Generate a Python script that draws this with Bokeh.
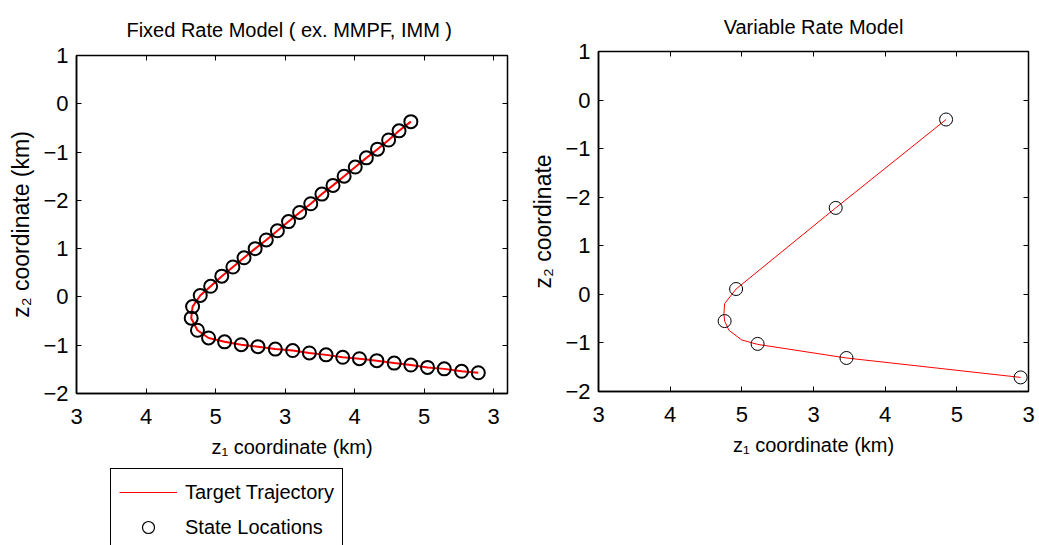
from bokeh.plotting import figure
from bokeh.models import LinearAxis, Legend, LegendItem, FixedTicker, Range1d
from bokeh.layouts import row, column
from bokeh.embed import file_html
from bokeh.resources import INLINE

# ---------------- data (axis-position units) ----------------
x_tick_pos = [0, 1, 2, 3, 4, 5, 6]
x_tick_labels = ["3", "4", "5", "3", "4", "5", "3"]
y_tick_pos = [0, 1, 2, 3, 4, 5, 6, 7]
y_tick_labels = ["\u22122", "\u22121", "0", "1", "\u22122", "\u22121", "0", "1"]

fixed_z1 = [4.81, 4.64, 4.49, 4.33, 4.17, 4.01, 3.85, 3.69, 3.53, 3.37,
            3.21, 3.05, 2.89, 2.73, 2.57, 2.41, 2.25, 2.09, 1.93, 1.78,
            1.67, 1.65, 1.74, 1.90, 2.13, 2.37, 2.61, 2.86, 3.11, 3.35,
            3.59, 3.83, 4.07, 4.32, 4.57, 4.81, 5.05, 5.29, 5.54, 5.78]
fixed_z2 = [5.63, 5.44, 5.25, 5.06, 4.88, 4.69, 4.50, 4.31, 4.13, 3.93,
            3.75, 3.56, 3.37, 3.18, 3.00, 2.81, 2.62, 2.43, 2.22, 2.03,
            1.80, 1.56, 1.31, 1.15, 1.07, 1.01, 0.97, 0.92, 0.89, 0.84,
            0.80, 0.75, 0.72, 0.68, 0.63, 0.59, 0.54, 0.51, 0.46, 0.43]

var_traj_z1 = [4.85, 3.31, 1.92, 1.76, 1.75, 1.76, 1.82, 2.00, 2.22, 3.46, 5.89]
var_traj_z2 = [5.60, 3.78, 2.11, 1.81, 1.60, 1.45, 1.26, 1.06, 0.97, 0.69, 0.29]
var_state_z1 = [4.85, 3.31, 1.92, 1.76, 2.22, 3.46, 5.89]
var_state_z2 = [5.60, 3.78, 2.11, 1.45, 0.98, 0.69, 0.29]

legend_labels = ["Target Trajectory", "State Locations"]

FONT = "Liberation Sans"


def style_axes(p, ylabel, title_standoff):
    p.xaxis.ticker = FixedTicker(ticks=x_tick_pos)
    p.yaxis.ticker = FixedTicker(ticks=y_tick_pos)
    p.xaxis.major_label_overrides = {t: l for t, l in zip(x_tick_pos, x_tick_labels)}
    p.yaxis.major_label_overrides = {t: l for t, l in zip(y_tick_pos, y_tick_labels)}
    for ax in (p.xaxis[0], p.yaxis[0]):
        ax.major_tick_in = 5
        ax.major_tick_out = 0
        ax.minor_tick_line_color = None
        ax.axis_line_color = "black"
        ax.axis_line_width = 1.5
        ax.major_tick_line_color = "black"
        ax.major_label_text_font = FONT
        ax.major_label_text_font_size = "22px"
        ax.major_label_text_color = "black"
        ax.axis_label_text_font = FONT
        ax.axis_label_text_font_style = "normal"
        ax.axis_label_text_color = "black"
    p.xaxis.axis_label_text_font_size = "20px"
    p.yaxis.axis_label_text_font_size = "23px"
    p.xaxis.major_label_standoff = 15
    p.xaxis.axis_label_standoff = 9
    p.yaxis.major_label_standoff = 8
    p.yaxis.axis_label_standoff = 6
    p.xaxis.axis_label = "z\u2081 coordinate (km)"
    p.yaxis.axis_label = ylabel
    # mirrored ticks (box on)
    for loc in ("right", "above"):
        ax = LinearAxis(ticker=FixedTicker(ticks=x_tick_pos if loc == "above" else y_tick_pos))
        ax.major_tick_in = 5
        ax.major_tick_out = 0
        ax.minor_tick_line_color = None
        ax.major_label_text_font_size = "1px"
        ax.major_label_text_color = None
        ax.major_label_standoff = 0
        ax.axis_line_color = None
        ax.major_tick_line_color = "black"
        p.add_layout(ax, loc)
    p.outline_line_color = "black"
    p.outline_line_width = 1.5
    p.outline_line_alpha = 1
    p.xgrid.visible = False
    p.ygrid.visible = False
    p.title.text_font = FONT
    p.title.text_font_size = "20px"
    p.title.text_font_style = "normal"
    p.title.align = "center"
    p.title.text_color = "black"
    p.title.standoff = title_standoff


# ---------------- left: fixed rate ----------------
p1 = figure(width=520, height=460, output_backend="svg", toolbar_location=None,
            x_range=Range1d(0, 6.2), y_range=Range1d(0, 7),
            title="Fixed Rate Model ( ex. MMPF, IMM  )",
            min_border_left=76, min_border_right=13, min_border_top=55, min_border_bottom=66)
style_axes(p1, "z\u2082 coordinate (km)", 29)
p1.line(fixed_z1, fixed_z2, line_color="red", line_width=2)
p1.scatter(fixed_z1, fixed_z2, marker="circle", size=13, fill_color=None,
           line_color="black", line_width=2)

# ---------------- legend strip below the left plot ----------------
# same series drawn thin, with the view range set away from the data so only
# the legend entries are visible in this strip
pleg = figure(width=520, height=85, output_backend="svg", toolbar_location=None,
              x_range=Range1d(-3, -2), y_range=Range1d(-3, -2), min_border=0)
pleg.axis.visible = False
pleg.grid.visible = False
pleg.outline_line_color = None
leg_line = pleg.line(fixed_z1, fixed_z2, line_color="red", line_width=1)
leg_circ = pleg.scatter(fixed_z1, fixed_z2, marker="circle", size=10, fill_color=None,
                        line_color="black", line_width=1.2)
legend = Legend(items=[LegendItem(label=legend_labels[0], renderers=[leg_line]),
                       LegendItem(label=legend_labels[1], renderers=[leg_circ])],
                location=(34, -6), orientation="vertical",
                label_text_font=FONT, label_text_font_size="20px",
                label_text_color="black",
                glyph_width=58, glyph_height=30, label_height=30,
                label_standoff=8, spacing=5, padding=8, margin=0,
                border_line_color="black", border_line_width=1.5, border_line_alpha=1,
                background_fill_color="white", background_fill_alpha=1)
pleg.add_layout(legend, "center")

# ---------------- right: variable rate ----------------
p2 = figure(width=519, height=545, output_backend="svg", toolbar_location=None,
            x_range=Range1d(0, 6), y_range=Range1d(0, 7),
            title="Variable Rate Model",
            min_border_left=78, min_border_right=11, min_border_top=51, min_border_bottom=154)
style_axes(p2, "z\u2082 coordinate", 27)
p2.line(var_traj_z1, var_traj_z2, line_color="red", line_width=1)
p2.scatter(var_state_z1, var_state_z2, marker="circle", size=13, fill_color=None,
           line_color="black", line_width=1)

layout = row(column(p1, pleg, spacing=0), p2, spacing=0)
open("out.html", "w").write(file_html(layout, INLINE))
